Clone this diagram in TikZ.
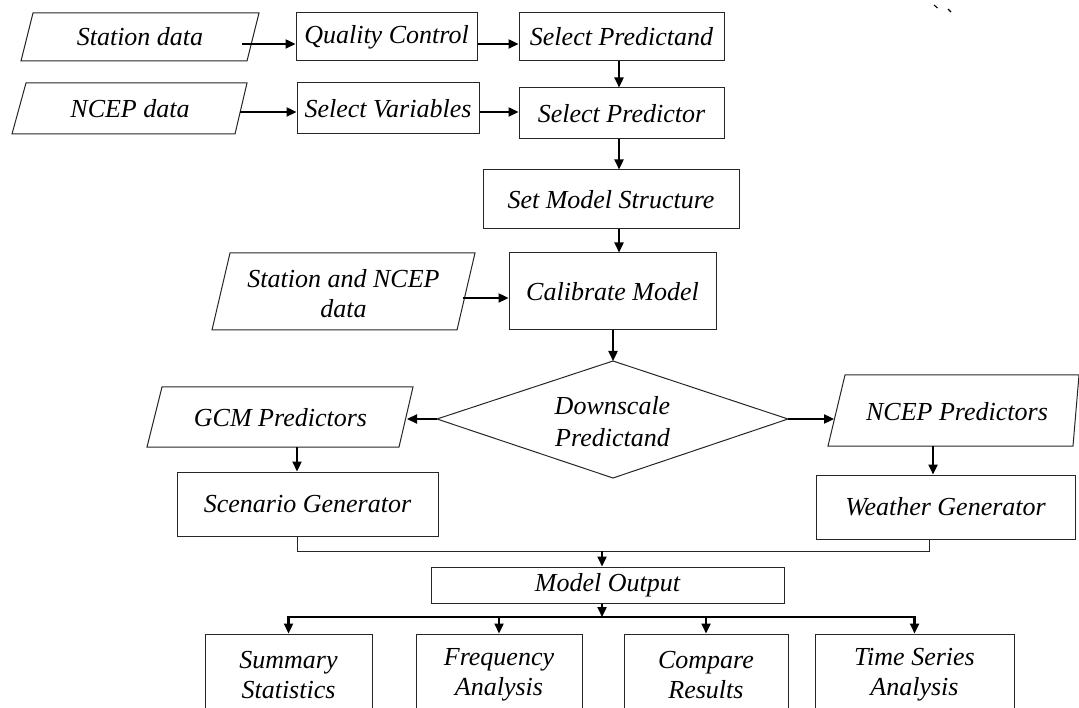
\documentclass[tikz,border=0pt]{standalone}
\usepackage{fontspec}
\setmainfont{Liberation Serif}
\usetikzlibrary{arrows.meta}
\newcommand\flowfont{\itshape\fontsize{26}{30}\selectfont}
\begin{document}
\begin{tikzpicture}[x=1pt,y=-1pt,
  box/.style={draw=black!85, line width=1pt, inner sep=0pt, font=\flowfont, align=center},
  lbl/.style={inner sep=0pt, font=\flowfont, align=center},
  outline/.style={draw=black!85, line width=1pt, line join=miter},
  thinline/.style={draw=black!85, line width=1pt},
  arr/.style={line width=2.3pt, -{Triangle[length=10pt,width=9pt]}},
  twoarr/.style={line width=2.3pt, {Triangle[length=10pt,width=9pt]}-{Triangle[length=10pt,width=9pt]}}]
\useasboundingbox (0,0) rectangle (1079,708);
\clip (0,0) rectangle (1079,708);

% ---- calibration inputs
\node[lbl] (sd) at (140,37) {Station data};
\draw[outline] (33,13) -- (259,13) -- (247,61) -- (21,61) -- cycle;
\node[box, minimum width=181pt, minimum height=48pt] (qc) at (386.5,37) {Quality Control};
\node[box, minimum width=205pt, minimum height=48pt] (sp) at (621.5,37) {Select Predictand};

\node[lbl] (nd) at (130,108.5) {NCEP data};
\draw[outline] (26,83) -- (247,83) -- (235,134) -- (12,134) -- cycle;
\node[box, minimum width=182pt, minimum height=51pt] (sv) at (388,108.5) {Select Variables};
\node[box, minimum width=205pt, minimum height=51pt] (spr) at (621.5,113.5) {Select Predictor};

\node[box, minimum width=256pt, minimum height=59pt] (sms) at (611,199.5) {Set Model Structure};
\node[box, minimum width=207pt, minimum height=77pt] (cm) at (612.5,291.5) {Calibrate Model};

\node[lbl] (snd) at (343.5,294) {Station and NCEP\\data};
\draw[outline] (230,253) -- (475,253) -- (457,330) -- (212,330) -- cycle;

% ---- decision
\node[lbl, font=\itshape\fontsize{26}{32}\selectfont] (dia) at (612.5,422) {Downscale\\Predictand};
\draw[outline] (613,361) -- (788,419) -- (613,478) -- (437,419) -- cycle;
\coordinate (dia-t) at (613,361);
\coordinate (dia-l) at (437,419);
\coordinate (dia-r) at (788,419);

\node[lbl] (gcm) at (280.5,418) {GCM Predictors};
\draw[outline] (162,387) -- (413,387) -- (399,447) -- (147,447) -- cycle;
\node[lbl] (ncp) at (957,412) {NCEP Predictors};
\draw[outline] (845,375) -- (1079,375) -- (1073,446) -- (828,446) -- cycle;

\node[box, minimum width=261pt, minimum height=64pt] (sg) at (307.5,504) {Scenario Generator};
\node[box, minimum width=259pt, minimum height=64pt] (wg) at (945.5,507) {Weather Generator};

\node[box, minimum width=353pt, minimum height=36pt] (mo) at (607.5,585) {Model Output};

\node[box, minimum width=167pt, minimum height=82pt] (ss) at (288.5,675) {Summary\\Statistics};
\node[box, minimum width=166pt, minimum height=82pt] (fa) at (499,675) {Frequency\\Analysis};
\node[box, minimum width=164pt, minimum height=82pt] (cr) at (706,675) {Compare\\Results};
\node[box, minimum width=199pt, minimum height=82pt] (ts) at (914.5,675) {Time Series\\Analysis};

% ---- connectors
\coordinate (sd-r) at (242,44);
\coordinate (nd-r) at (240,112);
\coordinate (colA) at (619,0);
\coordinate (snd-r) at (463,298);
\coordinate (gcm-r) at (407,419);
\coordinate (ncp-l) at (834,419);
\coordinate (gcm-b) at (297,447);
\coordinate (ncp-b) at (933,446);
\coordinate (mergeL) at (297,551);
\coordinate (mergeR) at (929,551);
\coordinate (mergeC) at (602,551);
\coordinate (bus) at (602,617);

\draw[arr] (sd-r) -- (sd-r -| qc.west);
\draw[arr] (qc.east |- sd-r) -- (sp.west |- sd-r);
\draw[arr] (nd-r) -- (nd-r -| sv.west);
\draw[arr] (sv.east |- nd-r) -- (spr.west |- nd-r);
\draw[arr] (sp.south -| colA) -- (spr.north -| colA);
\draw[arr] (spr.south -| colA) -- (sms.north -| colA);
\draw[arr] (sms.south -| colA) -- (cm.north -| colA);
\draw[arr] (snd-r) -- (snd-r -| cm.west);
\draw[arr] (cm.south -| dia-t) -- (dia-t);
\draw[arr] (dia-l) -- (gcm-r);
\draw[arr] (dia-r) -- (ncp-l);
\draw[arr] (gcm-b) -- (gcm-b |- sg.north);
\draw[arr] (ncp-b) -- (ncp-b |- wg.north);
\draw[thinline] (mergeL |- sg.south) -- (mergeL) -- (mergeR) -- (mergeR |- wg.south);
\draw[arr] (mergeC) -- (mergeC |- mo.north);
\draw[arr] (mo.south -| bus) -- (bus);
\draw[twoarr] (ss.north) -- (ss.north |- bus) -- (ts.north |- bus) -- (ts.north);
\draw[arr] (fa.north |- bus) -- (fa.north);
\draw[arr] (cr.north |- bus) -- (cr.north);

% small stray marks near the top edge
\draw[line width=1.1pt] (934,5) -- (937.5,8);
\draw[line width=1.1pt] (948,9) -- (951,12);
\end{tikzpicture}
\end{document}
